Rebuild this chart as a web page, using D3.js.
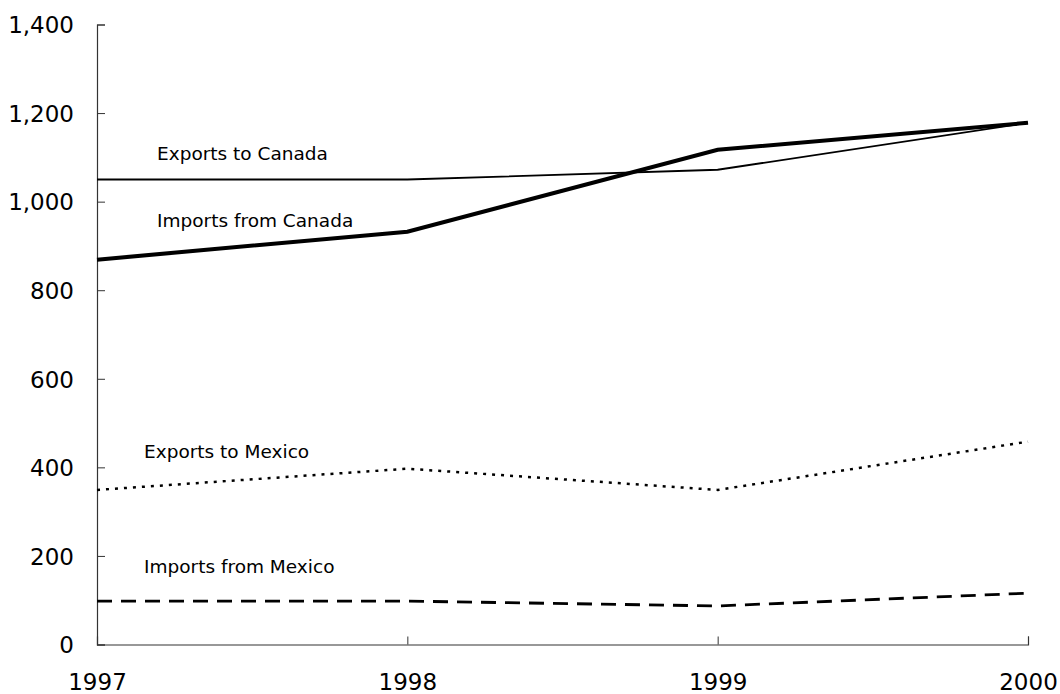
<!DOCTYPE html>
<html>
<head>
<meta charset="utf-8">
<script src="https://cdn.jsdelivr.net/npm/d3@7"></script>
<style>
body { margin: 0; background: #fff; }
svg { font-family: "DejaVu Sans", sans-serif; }
</style>
</head>
<body>
<div></div>
<script>
var years = [1997, 1998, 1999, 2000];
var exportsCanada = [1050, 1050, 1072, 1178];
var importsCanada = [869, 932, 1117, 1178];
var exportsMexico = [349, 397, 349, 458];
var importsMexico = [98, 98, 87, 116];
var yTicks = [0, 200, 400, 600, 800, 1000, 1200, 1400];

function init() {
var w = 1060;
var h = 694;

var svg = d3.select("div")
            .append("svg")
            .attr("width", w)
            .attr("height", h);

var x = d3.scaleLinear().domain([1997, 2000]).range([97, 1028]);
var y = d3.scaleLinear().domain([0, 1400]).range([644.5, 24.5]);

// axes, ticks drawn inward
var yAxis = d3.axisLeft(y).tickValues(yTicks).tickSize(-8).tickPadding(23)
    .tickFormat(d3.format(","));
var gy = svg.append("g").attr("transform", "translate(97,0)").call(yAxis)
    .attr("font-family", "DejaVu Sans, sans-serif");
gy.select(".domain").attr("stroke", "#333").attr("stroke-width", 1.2);
gy.selectAll("line").attr("stroke", "#333");
gy.selectAll("text").attr("font-size", 23).attr("fill", "#000").attr("dy", "0.36em");

var xAxis = d3.axisBottom(x).tickValues(years).tickSize(-8)
    .tickFormat(d3.format("d"));
var gx = svg.append("g").attr("transform", "translate(0,644.5)").call(xAxis)
    .attr("font-family", "DejaVu Sans, sans-serif");
gx.select(".domain").attr("stroke", "#333").attr("stroke-width", 1.2);
gx.selectAll("line").attr("stroke", "#333");
gx.selectAll("text").attr("font-size", 23).attr("fill", "#000")
    .attr("y", 45.5).attr("dy", 0);

var series = [
    { name: "Exports to Canada", values: exportsCanada, width: 1.8, dash: null, lx: 157, ly: 159.5 },
    { name: "Imports from Canada", values: importsCanada, width: 4, dash: null, lx: 157, ly: 227 },
    { name: "Exports to Mexico", values: exportsMexico, width: 2.5, dash: "3,6", lx: 144, ly: 457.5 },
    { name: "Imports from Mexico", values: importsMexico, width: 2.8, dash: "15,9", lx: 144, ly: 573 }
];

var line = d3.line()
    .x(function(d, i) { return x(years[i]); })
    .y(function(d) { return y(d); });

series.forEach(function(s) {
    svg.append("path")
        .datum(s.values)
        .attr("d", line)
        .attr("fill", "none")
        .attr("stroke", "#000")
        .attr("stroke-width", s.width)
        .attr("stroke-dasharray", s.dash);
    svg.append("text")
        .attr("x", s.lx)
        .attr("y", s.ly)
        .attr("font-size", 18.5)
        .text(s.name);
});
}

window.onload = init;
</script>
</body>
</html>
